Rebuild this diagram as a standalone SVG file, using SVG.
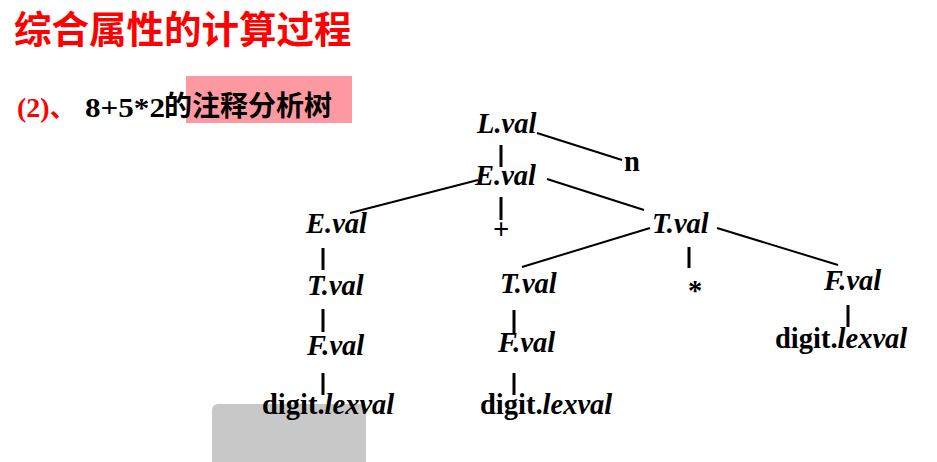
<svg xmlns="http://www.w3.org/2000/svg" width="937" height="462" viewBox="0 0 937 462">
<style>
.t{font-family:"Liberation Serif","Times New Roman",serif;font-size:28.5px;font-weight:bold;font-style:italic;fill:#000}
.r{font-style:normal}
.e{stroke:#000;stroke-width:2;fill:none}
.v{stroke:#000;stroke-width:3;fill:none}
.cjk{font-family:"Noto Sans CJK SC","Noto Sans",sans-serif}
</style>
<rect width="937" height="462" fill="#fff"/>
<g id="title">
<text x="14" y="43" class="cjk" font-size="37.5" font-weight="bold" fill="#ff0000">综合属性的计算过程</text>
</g>
<g id="subtitle">
<rect x="186" y="76" width="166" height="47" fill="#ff99a1"/>
<text x="17" y="117" font-family="Liberation Serif,serif" font-size="28" font-weight="bold" fill="#ff0000">(2)<tspan class="cjk" font-size="26">、</tspan></text>
<text x="85" y="117" font-family="Liberation Serif,serif" font-size="28" font-weight="bold" fill="#000" textLength="80" lengthAdjust="spacingAndGlyphs">8+5*2</text>
<text x="164" y="116" class="cjk" font-size="28" font-weight="bold" fill="#000">的注释分析树</text>
</g>
<rect x="212" y="404" width="154" height="70" rx="6" fill="#c8c8c8"/>
<g id="connectors">
<line class="v" x1="501" y1="145" x2="501" y2="167"/>
<line class="e" x1="537" y1="133" x2="622" y2="160"/>
<line class="e" x1="478" y1="180" x2="350" y2="213"/>
<line class="v" x1="501" y1="197" x2="501" y2="220"/>
<line class="e" x1="547" y1="179" x2="644" y2="210"/>
<line class="e" x1="650" y1="228" x2="522" y2="267"/>
<line class="v" x1="689" y1="247" x2="689" y2="268"/>
<line class="e" x1="717" y1="228" x2="838" y2="265"/>
<line class="v" x1="323" y1="248" x2="323" y2="270"/>
<line class="v" x1="323" y1="309" x2="323" y2="332"/>
<line class="v" x1="323" y1="373" x2="323" y2="395"/>
<line class="v" x1="514" y1="310" x2="514" y2="333"/>
<line class="v" x1="514" y1="373" x2="514" y2="395"/>
<line class="v" x1="848" y1="305" x2="848" y2="327"/>
</g>
<g id="n-L"><text class="t" x="477" y="133">L.val</text></g>
<g id="n-n"><text class="t r" x="624" y="171">n</text></g>
<g id="n-E0"><text class="t" x="475" y="185">E.val</text></g>
<g id="n-plus"><text class="t r" x="493" y="239" font-weight="normal">+</text></g>
<g id="n-T0"><text class="t" x="652" y="233">T.val</text></g>
<g id="n-E1"><text class="t" x="306" y="233">E.val</text></g>
<g id="n-T1"><text class="t" x="307" y="295">T.val</text></g>
<g id="n-F1"><text class="t" x="307" y="355">F.val</text></g>
<g id="n-d1"><text class="t" x="262" y="414"><tspan class="r">digit.</tspan>lexval</text></g>
<g id="n-T2"><text class="t" x="500" y="293">T.val</text></g>
<g id="n-F2"><text class="t" x="498" y="352">F.val</text></g>
<g id="n-d2"><text class="t" x="480" y="414"><tspan class="r">digit.</tspan>lexval</text></g>
<g id="n-star"><text class="t r" x="688" y="300">*</text></g>
<g id="n-F3"><text class="t" x="824" y="290">F.val</text></g>
<g id="n-d3"><text class="t" x="775" y="348"><tspan class="r">digit.</tspan>lexval</text></g>
</svg>
